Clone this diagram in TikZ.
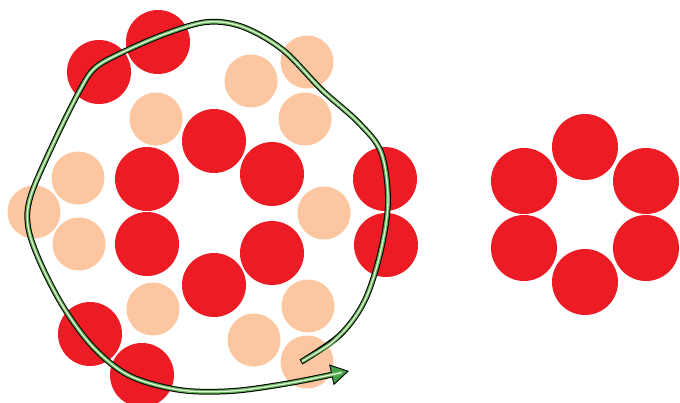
\documentclass[tikz,border=0pt]{standalone}
\usepackage{tikz}
\usetikzlibrary{arrows.meta}
\definecolor{ballred}{HTML}{ED1C24}
\definecolor{ballpeach}{HTML}{FCC7A0}
\definecolor{bandgreen}{HTML}{5DAE4E}
\definecolor{headgreen}{HTML}{43A047}
\definecolor{bandcore}{HTML}{E4F4DC}
\tikzset{redball/.style={fill=ballred},peachball/.style={fill=ballpeach},
  bandout/.style={line width=5.8pt,draw=black,line join=round,-{Triangle[length=18pt,width=21pt,fill=headgreen,line width=0.9pt]}},
  bandmid/.style={line width=3.8pt,draw=bandgreen,line join=round,shorten >=9pt,shorten <=1pt},
  bandin/.style={line width=1.3pt,draw=bandcore,line join=round,shorten >=9pt,shorten <=1.3pt}}
\def\looppts{(301,362) (340,335) (365,300) (381,250) (388,200) (381,152) (358,122) (322,90) (283,50) (243,27) (207,22) (165,34) (121,53) (95,68) (80,90) (55,140) (31,195) (28,226) (40,262) (64,308) (94,348) (130,376) (180,390) (232,391) (290,383) (349,371)}
\begin{document}
\begin{tikzpicture}[x=1pt,y=-1pt]
\useasboundingbox (0,0) rectangle (680,402);
\foreach \p in {(251,81),(307,62),(156,119),(305,119),(78,178),(34,212),(79,244),(324,213),(153,309),(308,306),(254,340),(307,362)}
  \fill[peachball] \p circle (26.5pt);
\foreach \p in {(99,72),(158,42),(214,141),(147,179),(272,174),(147,244),(272,253),(214,285),(385,179),(386,245),(90,334),(142,375)}
  \fill[redball] \p circle (32pt);
\foreach \p in {(585,147),(524,181),(646,181),(524,248),(646,248),(585,282)}
  \fill[redball] \p circle (33pt);
\draw[bandout] plot[smooth,tension=0.55] coordinates {\looppts};
\draw[bandmid] plot[smooth,tension=0.55] coordinates {\looppts};
\draw[bandin] plot[smooth,tension=0.55] coordinates {\looppts};
\end{tikzpicture}
\end{document}
